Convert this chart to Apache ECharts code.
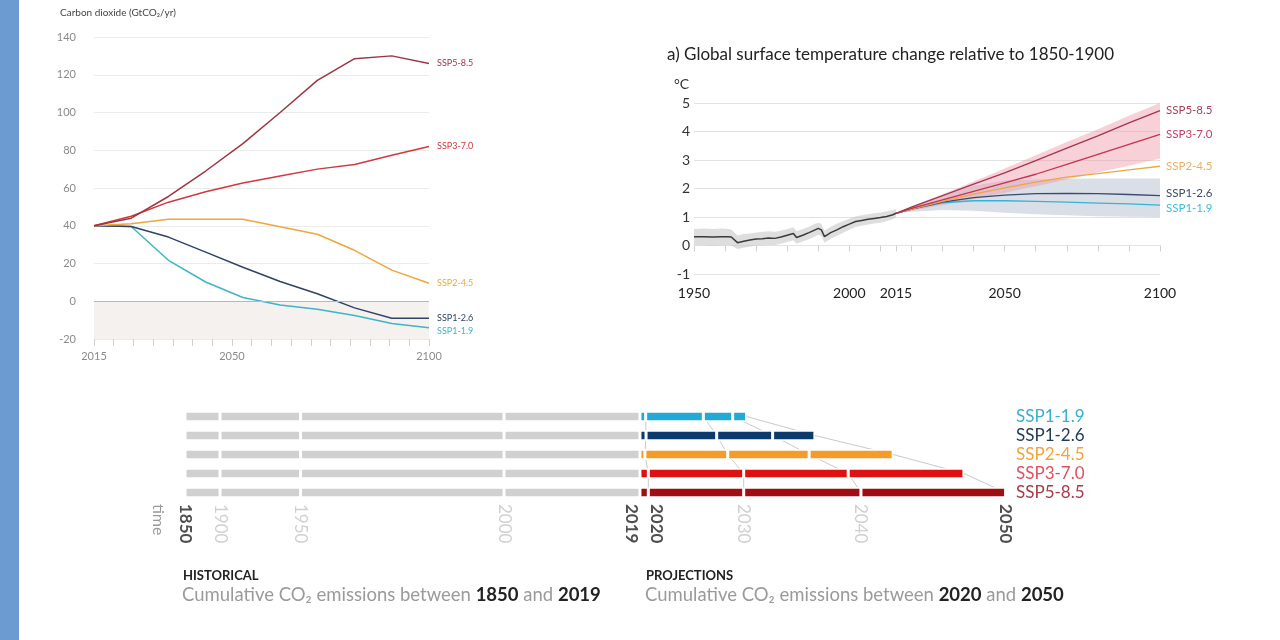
<!DOCTYPE html>
<html><head><meta charset="utf-8">
<script src="https://cdn.jsdelivr.net/npm/echarts@6/dist/echarts.min.js"></script>
<style>html,body{margin:0;padding:0;background:#fff}#c{width:1280px;height:640px}</style>
</head><body><div id="c"></div>
<script>
// ---------- Chart 1: CO2 emissions (GtCO2/yr) ----------
const co2Points = ['2015','2020','2030','2040','2050','2060','2070','2080','2090','2100'];
const co2SSP119 = [40, 39.6, 21.7, 10.2, 2, -2, -4.2, -7.5, -11.8, -14];
const co2SSP126 = [40, 39.6, 34, 26, 18, 10.5, 4, -3.5, -9, -9];
const co2SSP245 = [40, 41, 43.5, 43.5, 43.5, 39.5, 35.5, 27, 16.5, 9.5];
const co2SSP370 = [40, 45, 52.5, 58, 62.7, 66.3, 70, 72.5, 77.3, 82];
const co2SSP585 = [40, 44, 55.5, 69, 83.5, 100, 117, 128.5, 130, 126];
const co2AxisLabels = [2015, 2050, 2100];

// ---------- Chart 2: temperature change (°C) ----------
const histYears = [1950,1953,1956,1959,1961,1962,1964,1966,1968,1970,1972,1974,1976,1978,1980,1982,1983,1985,1987,1989,1990,1991,1992,1994,1996,1998,2000,2002,2004,2006,2008,2010,2012,2014,2015];
const histTemp  = [0.31,0.31,0.30,0.31,0.31,0.30,0.10,0.15,0.19,0.23,0.24,0.26,0.25,0.30,0.36,0.42,0.28,0.36,0.45,0.55,0.60,0.55,0.31,0.45,0.55,0.66,0.75,0.84,0.88,0.92,0.95,0.98,1.02,1.08,1.13];
const histLow   = [0.02,0.00,-0.02,0.00,0.02,0.00,-0.12,-0.08,-0.04,0.00,0.00,0.02,0.02,0.06,0.12,0.18,0.06,0.14,0.22,0.32,0.38,0.33,0.10,0.24,0.34,0.45,0.55,0.65,0.69,0.74,0.77,0.80,0.85,0.92,0.98];
const histHigh  = [0.58,0.60,0.58,0.60,0.58,0.56,0.35,0.40,0.42,0.46,0.48,0.50,0.48,0.52,0.58,0.64,0.50,0.58,0.66,0.76,0.80,0.76,0.52,0.66,0.76,0.86,0.94,1.02,1.06,1.10,1.13,1.16,1.20,1.25,1.28];
const projYears = [2015,2020,2030,2040,2050,2060,2070,2080,2090,2100];
const tempSSP119 = [1.13,1.28,1.50,1.57,1.57,1.55,1.52,1.49,1.46,1.42];
const tempSSP126 = [1.13,1.28,1.52,1.68,1.77,1.82,1.83,1.82,1.79,1.75];
const tempSSP245 = [1.13,1.28,1.55,1.80,2.02,2.22,2.40,2.52,2.65,2.78];
const tempSSP370 = [1.13,1.30,1.60,1.90,2.20,2.50,2.85,3.20,3.55,3.90];
const tempSSP585 = [1.13,1.35,1.75,2.15,2.55,2.98,3.42,3.85,4.30,4.73];
const redBandLow  = [1.13,1.22,1.42,1.62,1.85,2.08,2.32,2.56,2.80,3.05];
const redBandHigh = [1.13,1.38,1.80,2.25,2.70,3.17,3.63,4.08,4.55,5.00];
const blueBandLow  = [1.13,1.18,1.25,1.22,1.15,1.10,1.06,1.03,1.01,1.00];
const blueBandHigh = [1.13,1.35,1.75,2.10,2.28,2.32,2.34,2.35,2.35,2.35];
const tempAxisLabels = [1950, 2000, 2015, 2050, 2100];

// ---------- Chart 3: cumulative CO2 (GtCO2) ----------
const scenarios = ['SSP1-1.9','SSP1-2.6','SSP2-4.5','SSP3-7.0','SSP5-8.5'];
const histMarkYears = [1850, 1900, 1950, 2000, 2019];
const histCumulative = [0, 184, 607, 1676, 2390];
const projMarkYears = [2020, 2030, 2040, 2050];
const cumSSP119 = [30, 333, 487, 560];
const cumSSP126 = [32, 403, 697, 919];
const cumSSP245 = [26, 461, 889, 1330];
const cumSSP370 = [44, 545, 1094, 1702];
const cumSSP585 = [44, 545, 1161, 1921];

const FONT = 'Lato, "Noto Sans", sans-serif';
const co2Colors = ['#3fb4c9','#2f4366','#efa63e','#d0393d','#9e3541'];
const tempColors = ['#34b5d5','#3b4a70','#e9a842','#c8324f','#a53452'];
const tempLabelColors = ['#3cbfd8','#3c4a68','#e8b060','#c24262','#a3405a'];
const barColors = ['#22a9d6','#0c3a6c','#f49b2a','#dd1111','#a10d12'];
const rowLabelColors = ['#3ab0d0','#23395b','#f5a33a','#e0505c','#a83a48'];

const co2Series = [co2SSP119, co2SSP126, co2SSP245, co2SSP370, co2SSP585];
const tempSeries = [tempSSP119, tempSSP126, tempSSP245, tempSSP370, tempSSP585];
const cumSeries = [cumSSP119, cumSSP126, cumSSP245, cumSSP370, cumSSP585];

const barXMax = 4334;
const series = [];

// Chart 1 lines
co2Series.forEach((arr, i) => {
  const s = {
    type: 'line', name: scenarios[i], xAxisIndex: 0, yAxisIndex: 0,
    data: arr, symbol: 'none', z: 3 + i,
    lineStyle: { color: co2Colors[i], width: 1.5 },
    endLabel: { show: true, formatter: scenarios[i], color: co2Colors[i], fontSize: 9, fontFamily: FONT, distance: 8,
                offset: i === 0 ? [0, 3] : [0, 0] }
  };
  if (i === 0) {
    s.markArea = { silent: true, itemStyle: { color: '#f4f1ee' }, data: [[{ yAxis: -20 }, { yAxis: 0 }]] };
    s.markLine = { silent: true, symbol: 'none', label: { show: false }, lineStyle: { color: '#b8b8b8', type: 'solid', width: 1 }, data: [{ yAxis: 0 }] };
  }
  series.push(s);
});

// Chart 2 bands (polygons through the axis scales) & lines
function band(xs, low, high, color, z) {
  series.push({
    type: 'custom', xAxisIndex: 2, yAxisIndex: 1, z, silent: true, clip: true,
    data: xs.map((x, k) => [x, low[k], high[k]]),
    encode: { x: 0, y: [1, 2] },
    renderItem: (params, api) => {
      if (params.dataIndex !== 0) return null;
      const pts = [];
      for (let k = 0; k < xs.length; k++) pts.push(api.coord([xs[k], high[k]]));
      for (let k = xs.length - 1; k >= 0; k--) pts.push(api.coord([xs[k], low[k]]));
      return { type: 'polygon', shape: { points: pts }, style: { fill: color } };
    }
  });
}
band(histYears, histLow, histHigh, 'rgba(200,200,200,0.6)', 1);
band(projYears, blueBandLow, blueBandHigh, '#d9dee7', 1);
band(projYears, redBandLow, redBandHigh, 'rgba(240,150,168,0.45)', 2);
series.push({ type: 'line', xAxisIndex: 2, yAxisIndex: 1, symbol: 'none', z: 5,
  lineStyle: { color: '#3a3a3a', width: 1.5 }, data: histYears.map((x, k) => [x, histTemp[k]]) });
tempSeries.forEach((arr, i) => {
  series.push({ type: 'line', name: 't' + scenarios[i], xAxisIndex: 2, yAxisIndex: 1, symbol: 'none', z: 6 + i,
    lineStyle: { color: tempColors[i], width: 1.3 }, data: projYears.map((x, k) => [x, arr[k]]),
    endLabel: { show: true, formatter: scenarios[i], color: tempLabelColors[i], fontSize: 11.5, fontFamily: FONT, distance: 6,
                offset: i === 0 ? [0, 3] : (i === 1 ? [0, -2] : [0, 0]) } });
});

// Chart 3 stacked bars
const histSeg = histCumulative.slice(1).map((v, k) => v - histCumulative[k]);
histSeg.forEach(seg => {
  series.push({ type: 'bar', xAxisIndex: 3, yAxisIndex: 2, stack: 'cum', barWidth: 10.5, z: 3, silent: true,
    itemStyle: { color: '#d0d0d0', borderColor: '#fff', borderWidth: 1.5 },
    data: scenarios.map(() => seg) });
});
for (let k = 0; k < projMarkYears.length; k++) {
  series.push({ type: 'bar', xAxisIndex: 3, yAxisIndex: 2, stack: 'cum', barWidth: 10.5, z: 3, silent: true,
    itemStyle: { color: p => barColors[p.dataIndex], borderColor: '#fff', borderWidth: 1.5 },
    data: cumSeries.map(c => k === 0 ? c[0] : c[k] - c[k - 1]) });
}
// connecting lines for year marks across scenarios
for (let k = 0; k < projMarkYears.length; k++) {
  series.push({ type: 'line', xAxisIndex: 3, yAxisIndex: 2, symbol: 'none', z: 1, silent: true,
    lineStyle: { color: '#c9c9c9', width: 1 },
    data: cumSeries.map((c, i) => [histCumulative[4] + c[k], i]) });
}
// year labels (positions follow the bottom scenario, SSP5-8.5)
const boldYears = [1850, 2019, 2020, 2050];
const yearMarks = histMarkYears.map((y, k) => ({ y, v: histCumulative[k] }))
  .concat(projMarkYears.map((y, k) => ({ y, v: histCumulative[4] + cumSSP585[k] })));
series.push({ type: 'scatter', xAxisIndex: 4, yAxisIndex: 3, symbolSize: 2, silent: true, clip: false,
  itemStyle: { color: 'rgba(0,0,0,0)' },
  data: yearMarks.map(m => ({
    value: [m.v, 1],
    label: {
      show: true, position: 'inside', formatter: String(m.y), rotate: -90, align: 'left',
      verticalAlign: m.y === 2019 ? 'top' : (m.y === 2020 ? 'bottom' : 'middle'),
      fontSize: 17, fontFamily: FONT,
      fontWeight: boldYears.includes(m.y) ? 'bold' : 'normal',
      color: boldYears.includes(m.y) ? '#222' : '#c4c4c4'
    }
  })) });

const tickEvery5 = [];
for (let y = 2015; y <= 2100; y += 5) tickEvery5.push(y);
const tickEvery10 = [2015];
for (let y = 1950; y <= 2100; y += 10) tickEvery10.push(y);

const option = {
  animation: false,
  backgroundColor: '#fff',
  textStyle: { fontFamily: FONT },
  graphic: [
    { type: 'rect', shape: { x: 0, y: 0, width: 19, height: 640 }, style: { fill: '#6b9bd0' } },
    { type: 'text', x: 158, y: 504, rotation: -Math.PI / 2,
      style: { text: 'time', fill: '#9a9a9a', font: '16px ' + FONT, textAlign: 'left', textVerticalAlign: 'middle' } }
  ],
  title: [
    { text: 'Carbon dioxide (GtCO₂/yr)', left: 60, top: 8, padding: 0,
      textStyle: { fontSize: 10, color: '#444', fontWeight: 'normal', fontFamily: FONT } },
    { text: 'a) Global surface temperature change relative to 1850-1900', left: 667, top: 46, padding: 0,
      textStyle: { fontSize: 17, color: '#222', fontWeight: 'normal', fontFamily: FONT } },
    { text: '°C', left: 674, top: 77, padding: 0,
      textStyle: { fontSize: 14, color: '#333', fontWeight: 'normal', fontFamily: FONT } },
    { text: 'HISTORICAL', left: 183, top: 569, padding: 0,
      textStyle: { fontSize: 13, color: '#222', fontWeight: 'bold', fontFamily: FONT } },
    { text: 'Cumulative CO₂ emissions between {b|1850} and {b|2019}', left: 182, top: 586, padding: 0,
      textStyle: { fontSize: 18.5, color: '#9a9a9a', fontWeight: 'normal', fontFamily: FONT,
        rich: { b: { fontSize: 18.5, color: '#222', fontWeight: 'bold', fontFamily: FONT } } } },
    { text: 'PROJECTIONS', left: 646, top: 569, padding: 0,
      textStyle: { fontSize: 13, color: '#222', fontWeight: 'bold', fontFamily: FONT } },
    { text: 'Cumulative CO₂ emissions between {b|2020} and {b|2050}', left: 645, top: 586, padding: 0,
      textStyle: { fontSize: 18.5, color: '#9a9a9a', fontWeight: 'normal', fontFamily: FONT,
        rich: { b: { fontSize: 18.5, color: '#222', fontWeight: 'bold', fontFamily: FONT } } } }
  ],
  grid: [
    { left: 94, top: 37, width: 335, height: 302 },
    { left: 694, top: 103, width: 466, height: 171 },
    { left: 185, top: 407, width: 825, height: 95 },
    { left: 185, top: 504, width: 825, height: 40 }
  ],
  xAxis: [
    { gridIndex: 0, type: 'category', data: co2Points, boundaryGap: false, show: false, position: 'top' },
    { gridIndex: 0, type: 'value', min: 2015, max: 2100, interval: 5, position: 'bottom',
      axisLine: { show: false }, splitLine: { show: false },
      axisTick: { show: true, length: 7, lineStyle: { color: '#d0d0d0' }, customValues: tickEvery5 },
      axisLabel: { customValues: co2AxisLabels, formatter: v => String(v), color: '#8a8a8a', fontSize: 11, fontFamily: FONT, margin: 12 } },
    { gridIndex: 1, type: 'value', min: 1950, max: 2100, interval: 10, position: 'bottom',
      axisLine: { show: false }, splitLine: { show: false },
      axisTick: { show: true, length: 6, lineStyle: { color: '#d0d0d0' }, customValues: tickEvery10 },
      axisLabel: { customValues: tempAxisLabels, formatter: v => String(v), color: '#222', fontSize: 14, fontFamily: FONT, margin: 12 } },
    { gridIndex: 2, type: 'value', min: 0, max: barXMax, show: false },
    { gridIndex: 3, type: 'value', min: 0, max: barXMax, show: false }
  ],
  yAxis: [
    { gridIndex: 0, type: 'value', min: -20, max: 140, interval: 20,
      axisLine: { show: false }, axisTick: { show: false },
      splitLine: { lineStyle: { color: '#ebebeb' } },
      axisLabel: { color: '#8a8a8a', fontSize: 11, fontFamily: FONT, margin: 18 } },
    { gridIndex: 1, type: 'value', min: -1, max: 5, interval: 1,
      axisLine: { show: false }, axisTick: { show: false },
      splitLine: { lineStyle: { color: '#e2e2e2' } },
      axisLabel: { color: '#333', fontSize: 14, fontFamily: FONT, margin: 4 } },
    { gridIndex: 2, type: 'category', data: scenarios, inverse: true, position: 'right',
      axisLine: { show: false }, axisTick: { show: false }, splitLine: { show: false },
      axisLabel: { interval: 0, fontSize: 17, fontFamily: FONT, margin: 6, color: (v, i) => rowLabelColors[scenarios.indexOf(v)] } },
    { gridIndex: 3, type: 'value', min: 0, max: 1, show: false }
  ],
  series
};

const chart = echarts.init(document.getElementById('c'), null, { renderer: 'canvas' });
chart.setOption(option);
</script></body></html>
